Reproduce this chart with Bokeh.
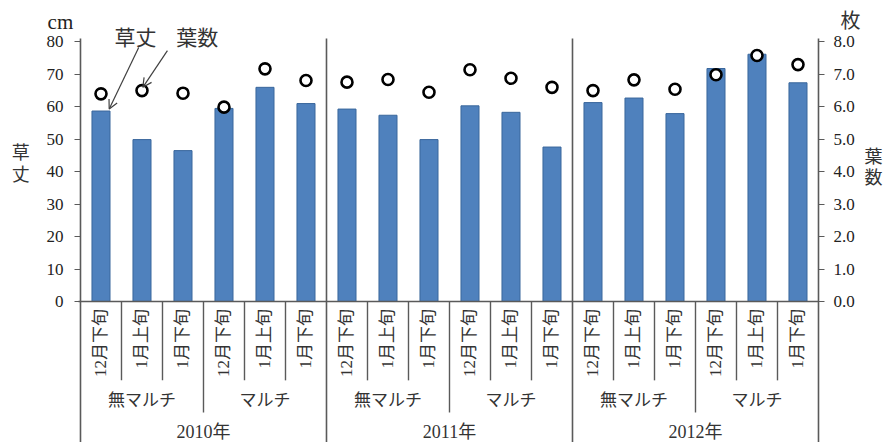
import math
from bokeh.plotting import figure
from bokeh.models import (Range1d, LinearAxis, FixedTicker, PrintfTickFormatter,
                          Arrow, OpenHead)
from bokeh.core.properties import value
from bokeh.embed import file_html
from bokeh.resources import INLINE

# ---------------- data ----------------
years = ["2010年", "2011年", "2012年"]
mulch = ["無マルチ", "マルチ"]
periods = ["12月下旬", "1月上旬", "1月下旬"]

height_2010 = [58.7, 49.9, 46.5, 59.5, 66.0, 61.0]
height_2011 = [59.3, 57.4, 49.9, 60.3, 58.3, 47.6]
height_2012 = [61.3, 62.7, 57.9, 71.8, 76.2, 67.4]

leaves_2010 = [6.40, 6.50, 6.42, 5.99, 7.17, 6.81]
leaves_2011 = [6.76, 6.84, 6.45, 7.14, 6.88, 6.60]
leaves_2012 = [6.50, 6.83, 6.54, 6.99, 7.58, 7.30]

height_ticks = [0, 10, 20, 30, 40, 50, 60, 70, 80]
leaf_ticks = [0, 1, 2, 3, 4, 5, 6, 7, 8]

# ---------------- derived ----------------
heights = height_2010 + height_2011 + height_2012
leaves = leaves_2010 + leaves_2011 + leaves_2012
n = len(heights)
per_group = len(periods)
per_year = per_group * len(mulch)
cat_x = [i + 0.5 for i in range(n)]
cat_labels = [periods[i % per_group] for i in range(n)]

JP = "'Noto Sans CJK JP'"
SERIF_JP = "'Liberation Serif', 'Noto Sans CJK JP'"
TXT = "#333333"
LINE = "#5a5a5a"

X0, X1 = -1.951, 19.805
Y0, Y1 = -43.45, 92.76
p = figure(width=892, height=442, x_range=Range1d(X0, X1), y_range=Range1d(Y0, Y1),
           output_backend="svg", toolbar_location=None,
           x_axis_location=None, y_axis_location=None, min_border=0)
p.outline_line_color = None
p.xgrid.visible = False
p.ygrid.visible = False
p.extra_y_ranges = {"leaves": Range1d(Y0 / 10, Y1 / 10)}

# axes (drawn at fixed data positions inside the full-canvas frame)
left = LinearAxis(ticker=FixedTicker(ticks=height_ticks), bounds=(0, 80), fixed_location=0)
right = LinearAxis(y_range_name="leaves", ticker=FixedTicker(ticks=leaf_ticks), bounds=(0, 8),
                   formatter=PrintfTickFormatter(format="%.1f"), fixed_location=n)
for ax, sd in ((left, 11), (right, 9)):
    ax.axis_line_color = None
    ax.major_tick_line_color = LINE
    ax.major_tick_out = 6
    ax.major_tick_in = 0
    ax.minor_tick_line_color = None
    ax.major_label_text_font = "Liberation Serif"
    ax.major_label_text_font_size = "17px"
    ax.major_label_text_color = "#222222"
    ax.major_label_standoff = sd
p.add_layout(left, "left")
p.add_layout(right, "right")

# bars and markers
p.vbar(x=cat_x, top=heights, width=0.44, bottom=0,
       fill_color="#4F81BD", line_color="#3A679C", line_width=1)
p.scatter(x=cat_x, y=leaves, y_range_name="leaves", marker="circle", size=11,
          fill_color="white", line_color="black", line_width=2.6)

# frame / table lines
top_line = 81.05
year_x = [k * per_year for k in range(len(years) + 1)]
p.segment(x0=year_x, y0=[Y0] * len(year_x), x1=year_x, y1=[top_line] * len(year_x),
          line_color=LINE, line_width=1.6)
group_x = [k * per_year + per_group for k in range(len(years))]
p.segment(x0=group_x, y0=[0] * len(group_x), x1=group_x, y1=[-34.2] * len(group_x),
          line_color=LINE, line_width=1.4)
cat_sep = [i for i in range(1, n) if i % per_group != 0]
p.segment(x0=cat_sep, y0=[0] * len(cat_sep), x1=cat_sep, y1=[-24.3] * len(cat_sep),
          line_color=LINE, line_width=1.4)
p.segment(x0=[-0.05], y0=[0], x1=[n], y1=[0], line_color=LINE, line_width=1.6)

# category labels
p.text(x=cat_x, y=[-2.3] * n, text=cat_labels, angle=math.pi / 2,
       text_align="right", text_baseline="middle",
       text_font=value(SERIF_JP), text_font_size="17px", text_color=TXT)
grp_x = [k * per_group + per_group / 2 for k in range(len(years) * len(mulch))]
grp_labels = [mulch[k % len(mulch)] for k in range(len(grp_x))]
p.text(x=grp_x, y=[-29.9] * len(grp_x), text=grp_labels, text_align="center",
       text_baseline="middle", text_font=value(JP), text_font_size="17px", text_color=TXT)
yr_x = [k * per_year + per_year / 2 for k in range(len(years))]
p.text(x=yr_x, y=[-40.1] * len(yr_x), text=years, text_align="center",
       text_baseline="middle", text_font=value(SERIF_JP), text_font_size="18px", text_color=TXT)

# annotations inside plot
p.text(x=[1.34, 2.85], y=[81.9, 81.9], text=["草丈", "葉数"], text_align="center",
       text_baseline="middle", text_font=value(JP), text_font_size="21px", text_color=TXT)
p.add_layout(Arrow(end=OpenHead(size=9, line_width=1.2, line_color="#404040"),
                   x_start=1.42, y_start=78.3, x_end=cat_x[0] + 0.2, y_end=heights[0] + 0.6,
                   line_color="#404040", line_width=1.2))
p.add_layout(Arrow(end=OpenHead(size=9, line_width=1.2, line_color="#404040"),
                   x_start=2.12, y_start=77.3, x_end=cat_x[1] + 0.02, y_end=leaves[1] * 10 + 1.0,
                   line_color="#404040", line_width=1.2))

# axis titles
p.text(x=[-0.49], y=[86.0], text=["cm"], text_align="center", text_baseline="middle",
       text_font=value("Liberation Serif"), text_font_size="21px", text_color="#222222")
p.text(x=[18.78], y=[87.0], text=["枚"], text_align="center", text_baseline="middle",
       text_font=value(JP), text_font_size="20px", text_color=TXT)
p.text(x=[-1.46, -1.46], y=[46.5, 39.75], text=["草", "丈"], text_align="center",
       text_baseline="middle", text_font=value(JP), text_font_size="18px", text_color=TXT)
p.text(x=[19.34, 19.34], y=[45.0, 38.8], text=["葉", "数"], text_align="center",
       text_baseline="middle", text_font=value(JP), text_font_size="18px", text_color=TXT)

open("out.html", "w").write(file_html(p, INLINE))
